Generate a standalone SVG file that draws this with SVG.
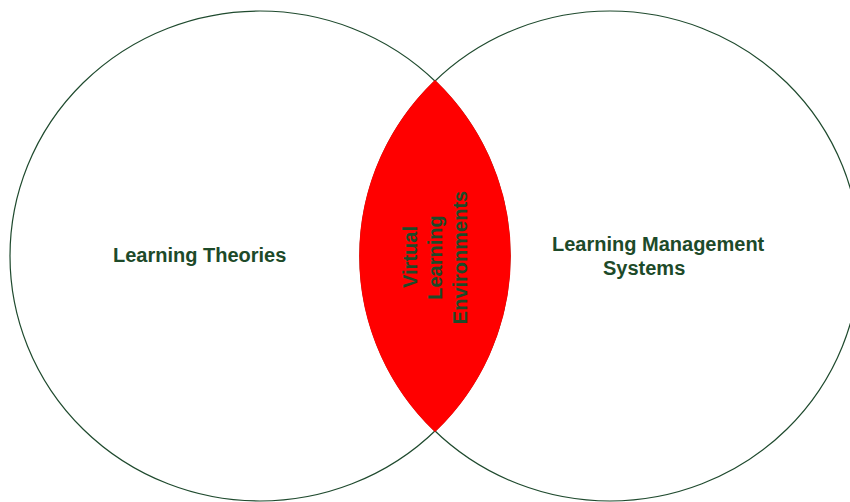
<svg xmlns="http://www.w3.org/2000/svg" width="850" height="502" viewBox="0 0 850 502">
  <style>
    .set { fill: none; stroke: #1f4a2e; stroke-width: 1.2; }
    .lens { fill: #ff0000; stroke: #ff0000; stroke-width: 1.6; stroke-linejoin: miter; }
    .lbl { font-family: "Liberation Sans", Arial, sans-serif; font-size: 20px; font-weight: bold; fill: #1d4a29; }
  </style>
  <rect x="0" y="0" width="850" height="502" fill="#ffffff"/>
  <g id="set-learning-theories">
    <ellipse class="set" cx="260" cy="256" rx="250" ry="245"/>
  </g>
  <g id="set-lms">
    <ellipse class="set" cx="610" cy="256" rx="250" ry="245"/>
  </g>
  <g id="intersection-vle">
    <path class="lens" d="M435,81 A250,245 0 0,0 435,431 A250,245 0 0,0 435,81 Z"/>
  </g>
  <g id="label-learning-theories">
    <text class="lbl" x="113" y="262">Learning Theories</text>
  </g>
  <g id="label-lms">
    <text class="lbl" x="552" y="251">Learning Management</text>
    <text class="lbl" x="603" y="275">Systems</text>
  </g>
  <g id="label-vle">
    <text class="lbl" text-anchor="middle" transform="translate(417,257) rotate(-90)">Virtual</text>
    <text class="lbl" text-anchor="middle" transform="translate(441.5,257.5) rotate(-90)">Learning</text>
    <text class="lbl" text-anchor="middle" transform="translate(466.5,257.5) rotate(-90)">Environments</text>
  </g>
  <g id="connectors"></g>
</svg>
